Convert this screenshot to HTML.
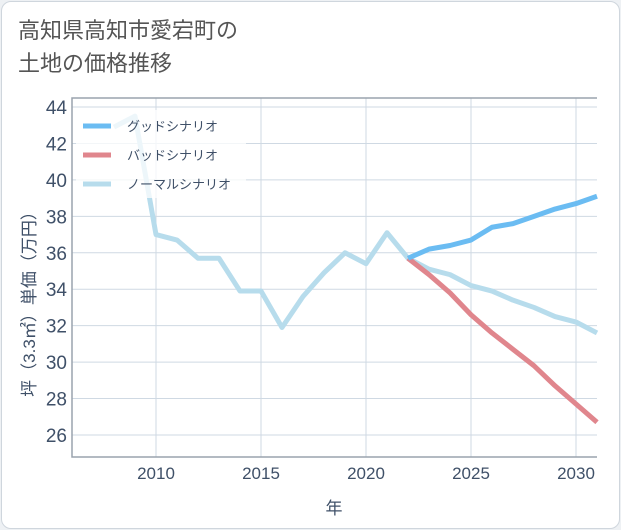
<!DOCTYPE html>
<html><head><meta charset="utf-8"><style>
body{margin:0;background:#eef1f4;}
#card{position:absolute;left:1px;top:1px;width:617px;height:526px;background:#fff;border:1px solid #cfd6dd;border-radius:10px;}
#title{position:absolute;left:18px;top:14px;font:22px "Liberation Sans","Noto Sans CJK JP",sans-serif;color:#555;line-height:33px;}
svg{position:absolute;left:0;top:0;}
text{font-family:"Liberation Sans","Noto Sans CJK JP",sans-serif;}
</style></head><body>
<div id="card"></div>
<div id="title">高知県高知市愛宕町の<br>土地の価格推移</div>
<svg id="chart" width="621" height="530"></svg>
<script>
const normalYears=[2008,2009,2010,2011,2012,2013,2014,2015,2016,2017,2018,2019,2020,2021,2022,2023,2024,2025,2026,2027,2028,2029,2030,2031];
const normalVals=[42.9,43.5,37.0,36.7,35.7,35.7,33.9,33.9,31.9,33.6,34.9,36.0,35.4,37.1,35.7,35.1,34.8,34.2,33.9,33.4,33.0,32.5,32.2,31.6];
const goodYears=[2022,2023,2024,2025,2026,2027,2028,2029,2030,2031];
const goodVals=[35.7,36.2,36.4,36.7,37.4,37.6,38.0,38.4,38.7,39.1];
const badYears=[2022,2023,2024,2025,2026,2027,2028,2029,2030,2031];
const badVals=[35.7,34.8,33.8,32.6,31.6,30.7,29.8,28.7,27.7,26.7];
const xTicks=[2010,2015,2020,2025,2030];
const yTicks=[26,28,30,32,34,36,38,40,42,44];
const L=72,R=597,T=98,B=457;
const x=v=>156+(v-2010)*21;
const y=v=>107+(44-v)*18.222;
const svg=document.getElementById('chart');
const NS='http://www.w3.org/2000/svg';
function mk(t,a,p){const e=document.createElementNS(NS,t);for(const k in a)e.setAttribute(k,a[k]);(p||svg).appendChild(e);return e;}
xTicks.forEach(t=>{const g=mk('line',{x1:x(t),x2:x(t),y1:T,y2:B,stroke:'#cfd9e3'});

});
yTicks.forEach(t=>{const g=mk('line',{x1:L,x2:R,y1:y(t),y2:y(t),stroke:'#cfd9e3'});

});
const frame=mk('path',{d:`M${R},${T}H${L}V${B}H${R}`,fill:'none',stroke:'#9aa3ad','stroke-width':1.5});


xTicks.forEach(t=>{const e=mk('text',{x:x(t),y:479,'text-anchor':'middle','font-size':17,fill:'#3f5068'});e.textContent=t;

});
yTicks.forEach(t=>{const e=mk('text',{x:67,y:y(t)+7,'text-anchor':'end','font-size':19,fill:'#3f5068'});e.textContent=t;

});
const xt=mk('text',{x:334,y:514,'text-anchor':'middle','font-size':17,fill:'#3f5068'});xt.textContent='年';


const yt=mk('text',{x:0,y:0,transform:'translate(35,300) rotate(-90)','text-anchor':'middle','font-size':17,fill:'#3f5068'});yt.textContent='坪（3.3㎡）単価（万円）';


function line(xs,vs,c,name){const p=mk('polyline',{points:xs.map((a,i)=>x(a)+','+y(vs[i])).join(' '),fill:'none',stroke:c,'stroke-width':5,'stroke-linejoin':'round'});

}
line(normalYears,normalVals,'#b7dcec','normal-scenario-line');
line(badYears,badVals,'#e0868d','bad-scenario-line');
line(goodYears,goodVals,'#6bbcf2','good-scenario-line');
const lb=mk('rect',{x:76,y:110,width:170,height:88,fill:'#fff','fill-opacity':0.75});


[['グッドシナリオ','#6bbcf2'],['バッドシナリオ','#e0868d'],['ノーマルシナリオ','#b7dcec']].forEach((d,i)=>{
const ly=126+i*29;
const l=mk('line',{x1:83,x2:111,y1:ly,y2:ly,stroke:d[1],'stroke-width':5});


const t=mk('text',{x:127,y:ly+5,'font-size':13,fill:'#3f5068'});t.textContent=d[0];

});
</script></body></html>
